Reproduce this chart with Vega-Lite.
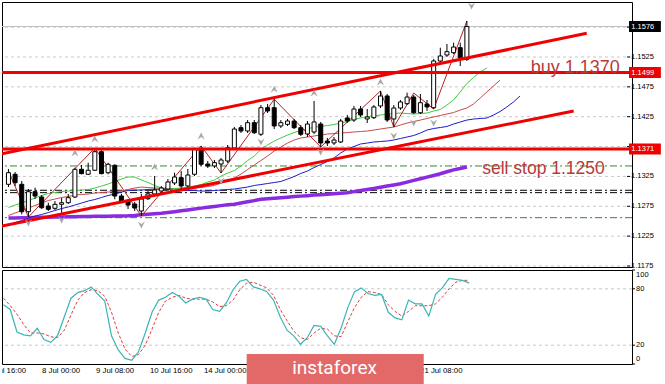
{
"$schema":"https://vega.github.io/schema/vega-lite/v6.json",
"background":"white",
"padding":{"left":0,"top":1,"right":0,"bottom":0},
"bounds":"flush",
"spacing":3,
"config":{"view":{"stroke":"#000","strokeWidth":1},"font":"Liberation Sans","axis":{"labelFont":"Liberation Sans","labelColor":"#000"}},
"datasets":{
"candles":[
{"i":-6,"o":1.13118,"h":1.13374,"l":1.13073,"c":1.13312},
{"i":-5,"o":1.13286,"h":1.13324,"l":1.13090,"c":1.13145},
{"i":-4,"o":1.13118,"h":1.13173,"l":1.12616,"c":1.12659},
{"i":-3,"o":1.12659,"h":1.13039,"l":1.12570,"c":1.12994},
{"i":-2,"o":1.12994,"h":1.13061,"l":1.12872,"c":1.12922},
{"i":-1,"o":1.12905,"h":1.12939,"l":1.12704,"c":1.12726},
{"i":0,"o":1.12755,"h":1.12810,"l":1.12671,"c":1.12699},
{"i":1,"o":1.12716,"h":1.12838,"l":1.12688,"c":1.12783},
{"i":2,"o":1.12783,"h":1.12889,"l":1.12642,"c":1.12810},
{"i":3,"o":1.12810,"h":1.12956,"l":1.12788,"c":1.12894},
{"i":4,"o":1.12905,"h":1.13396,"l":1.12889,"c":1.13369},
{"i":5,"o":1.13369,"h":1.13441,"l":1.13286,"c":1.13296},
{"i":6,"o":1.13286,"h":1.13480,"l":1.13274,"c":1.13353},
{"i":7,"o":1.13353,"h":1.13726,"l":1.13341,"c":1.13664},
{"i":8,"o":1.13664,"h":1.13688,"l":1.13286,"c":1.13296},
{"i":9,"o":1.13312,"h":1.13480,"l":1.13286,"c":1.13453},
{"i":10,"o":1.13436,"h":1.13453,"l":1.12867,"c":1.12922},
{"i":11,"o":1.12922,"h":1.12956,"l":1.12810,"c":1.12838},
{"i":12,"o":1.12838,"h":1.12872,"l":1.12704,"c":1.12771},
{"i":13,"o":1.12788,"h":1.12822,"l":1.12671,"c":1.12721},
{"i":14,"o":1.12671,"h":1.12956,"l":1.12587,"c":1.12872},
{"i":15,"o":1.12877,"h":1.13006,"l":1.12855,"c":1.12956},
{"i":16,"o":1.12956,"h":1.13257,"l":1.12922,"c":1.13023},
{"i":17,"o":1.13006,"h":1.13090,"l":1.12972,"c":1.13056},
{"i":18,"o":1.13039,"h":1.13207,"l":1.13006,"c":1.13157},
{"i":19,"o":1.13140,"h":1.13312,"l":1.13106,"c":1.13240},
{"i":20,"o":1.13229,"h":1.13341,"l":1.13039,"c":1.13090},
{"i":21,"o":1.13090,"h":1.13374,"l":1.13056,"c":1.13274},
{"i":22,"o":1.13286,"h":1.13731,"l":1.13257,"c":1.13704},
{"i":23,"o":1.13704,"h":1.13760,"l":1.13425,"c":1.13453},
{"i":24,"o":1.13458,"h":1.13508,"l":1.13391,"c":1.13425},
{"i":25,"o":1.13425,"h":1.13525,"l":1.13391,"c":1.13480},
{"i":26,"o":1.13458,"h":1.13559,"l":1.13307,"c":1.13525},
{"i":27,"o":1.13508,"h":1.13776,"l":1.13475,"c":1.13731},
{"i":28,"o":1.13726,"h":1.14078,"l":1.13693,"c":1.14044},
{"i":29,"o":1.14066,"h":1.14111,"l":1.13977,"c":1.14011},
{"i":30,"o":1.14011,"h":1.14195,"l":1.13977,"c":1.14150},
{"i":31,"o":1.14150,"h":1.14195,"l":1.13961,"c":1.13982},
{"i":32,"o":1.13956,"h":1.14446,"l":1.13927,"c":1.14401},
{"i":33,"o":1.14401,"h":1.14463,"l":1.14312,"c":1.14346},
{"i":34,"o":1.14401,"h":1.14542,"l":1.14044,"c":1.14095},
{"i":35,"o":1.14095,"h":1.14195,"l":1.14061,"c":1.14150},
{"i":36,"o":1.14123,"h":1.14212,"l":1.14095,"c":1.14178},
{"i":37,"o":1.14178,"h":1.14212,"l":1.14044,"c":1.14066},
{"i":38,"o":1.14066,"h":1.14111,"l":1.13927,"c":1.13956},
{"i":39,"o":1.13961,"h":1.14178,"l":1.13910,"c":1.14128},
{"i":40,"o":1.13994,"h":1.14513,"l":1.13961,"c":1.14162},
{"i":41,"o":1.14128,"h":1.14162,"l":1.13743,"c":1.13810},
{"i":42,"o":1.13843,"h":1.13894,"l":1.13760,"c":1.13810},
{"i":43,"o":1.13810,"h":1.13910,"l":1.13776,"c":1.13860},
{"i":44,"o":1.13827,"h":1.14212,"l":1.13810,"c":1.14178},
{"i":45,"o":1.14229,"h":1.14279,"l":1.14145,"c":1.14178},
{"i":46,"o":1.14195,"h":1.14430,"l":1.14162,"c":1.14379},
{"i":47,"o":1.14379,"h":1.14430,"l":1.14245,"c":1.14279},
{"i":48,"o":1.14212,"h":1.14379,"l":1.14145,"c":1.14245},
{"i":49,"o":1.14234,"h":1.14446,"l":1.14212,"c":1.14413},
{"i":50,"o":1.14430,"h":1.14681,"l":1.14396,"c":1.14597},
{"i":51,"o":1.14597,"h":1.14630,"l":1.14162,"c":1.14195},
{"i":52,"o":1.14212,"h":1.14446,"l":1.14078,"c":1.14396},
{"i":53,"o":1.14396,"h":1.14530,"l":1.14363,"c":1.14497},
{"i":54,"o":1.14468,"h":1.14652,"l":1.14446,"c":1.14580},
{"i":55,"o":1.14580,"h":1.14614,"l":1.14296,"c":1.14317},
{"i":56,"o":1.14317,"h":1.14630,"l":1.14296,"c":1.14485},
{"i":57,"o":1.14463,"h":1.14530,"l":1.14346,"c":1.14413},
{"i":58,"o":1.14401,"h":1.15217,"l":1.14379,"c":1.15183},
{"i":59,"o":1.15183,"h":1.15406,"l":1.15150,"c":1.15267},
{"i":60,"o":1.15283,"h":1.15468,"l":1.15250,"c":1.15339},
{"i":61,"o":1.15322,"h":1.15490,"l":1.15300,"c":1.15417},
{"i":62,"o":1.15406,"h":1.15490,"l":1.15099,"c":1.15238},
{"i":63,"o":1.15212,"h":1.15853,"l":1.15183,"c":1.15760}
],
"alligator":[
{"i":-6,"lips":1.12729,"teeth":1.12595,"jaw":1.12436,"ma":1.12553},
{"i":-5,"lips":1.12771,"teeth":1.12637,"jaw":1.12478,"ma":1.12553},
{"i":-4,"lips":1.12804,"teeth":1.12679,"jaw":1.12511,"ma":1.12557},
{"i":-3,"lips":1.12846,"teeth":1.12721,"jaw":1.12553,"ma":1.12558},
{"i":-2,"lips":1.12888,"teeth":1.12763,"jaw":1.12587,"ma":1.12562},
{"i":-1,"lips":1.12930,"teeth":1.12804,"jaw":1.12612,"ma":1.12565},
{"i":0,"lips":1.12964,"teeth":1.12846,"jaw":1.12645,"ma":1.12567},
{"i":1,"lips":1.12980,"teeth":1.12871,"jaw":1.12679,"ma":1.12570},
{"i":2,"lips":1.12997,"teeth":1.12897,"jaw":1.12712,"ma":1.12572},
{"i":3,"lips":1.13005,"teeth":1.12913,"jaw":1.12738,"ma":1.12573},
{"i":4,"lips":1.13014,"teeth":1.12938,"jaw":1.12771,"ma":1.12575},
{"i":5,"lips":1.13022,"teeth":1.12947,"jaw":1.12804,"ma":1.12577},
{"i":6,"lips":1.13031,"teeth":1.12955,"jaw":1.12838,"ma":1.12579},
{"i":7,"lips":1.13056,"teeth":1.12972,"jaw":1.12863,"ma":1.12581},
{"i":8,"lips":1.13089,"teeth":1.12980,"jaw":1.12897,"ma":1.12583},
{"i":9,"lips":1.13123,"teeth":1.12989,"jaw":1.12930,"ma":1.12585},
{"i":10,"lips":1.13165,"teeth":1.12997,"jaw":1.12955,"ma":1.12587},
{"i":11,"lips":1.13206,"teeth":1.13005,"jaw":1.12989,"ma":1.12588},
{"i":12,"lips":1.13240,"teeth":1.13031,"jaw":1.13014,"ma":1.12590},
{"i":13,"lips":1.13240,"teeth":1.13056,"jaw":1.13022,"ma":1.12597},
{"i":14,"lips":1.13190,"teeth":1.13072,"jaw":1.13022,"ma":1.12607},
{"i":15,"lips":1.13148,"teeth":1.13064,"jaw":1.13031,"ma":1.12615},
{"i":16,"lips":1.13098,"teeth":1.13056,"jaw":1.13039,"ma":1.12624},
{"i":17,"lips":1.13056,"teeth":1.13056,"jaw":1.13031,"ma":1.12632},
{"i":18,"lips":1.13039,"teeth":1.13047,"jaw":1.13031,"ma":1.12645},
{"i":19,"lips":1.13047,"teeth":1.13047,"jaw":1.13022,"ma":1.12660},
{"i":20,"lips":1.13056,"teeth":1.13039,"jaw":1.13014,"ma":1.12674},
{"i":21,"lips":1.13072,"teeth":1.13047,"jaw":1.13014,"ma":1.12689},
{"i":22,"lips":1.13089,"teeth":1.13056,"jaw":1.13014,"ma":1.12704},
{"i":23,"lips":1.13114,"teeth":1.13064,"jaw":1.13005,"ma":1.12719},
{"i":24,"lips":1.13156,"teeth":1.13081,"jaw":1.13005,"ma":1.12732},
{"i":25,"lips":1.13190,"teeth":1.13098,"jaw":1.13014,"ma":1.12746},
{"i":26,"lips":1.13257,"teeth":1.13139,"jaw":1.13022,"ma":1.12761},
{"i":27,"lips":1.13307,"teeth":1.13173,"jaw":1.13031,"ma":1.12774},
{"i":28,"lips":1.13349,"teeth":1.13223,"jaw":1.13039,"ma":1.12784},
{"i":29,"lips":1.13424,"teeth":1.13290,"jaw":1.13056,"ma":1.12804},
{"i":30,"lips":1.13516,"teeth":1.13366,"jaw":1.13072,"ma":1.12825},
{"i":31,"lips":1.13592,"teeth":1.13441,"jaw":1.13098,"ma":1.12845},
{"i":32,"lips":1.13700,"teeth":1.13516,"jaw":1.13114,"ma":1.12866},
{"i":33,"lips":1.13776,"teeth":1.13592,"jaw":1.13131,"ma":1.12875},
{"i":34,"lips":1.13843,"teeth":1.13675,"jaw":1.13148,"ma":1.12883},
{"i":35,"lips":1.13893,"teeth":1.13742,"jaw":1.13165,"ma":1.12893},
{"i":36,"lips":1.13943,"teeth":1.13809,"jaw":1.13206,"ma":1.12902},
{"i":37,"lips":1.13985,"teeth":1.13860,"jaw":1.13248,"ma":1.12912},
{"i":38,"lips":1.14019,"teeth":1.13893,"jaw":1.13299,"ma":1.12920},
{"i":39,"lips":1.14044,"teeth":1.13910,"jaw":1.13340,"ma":1.12928},
{"i":40,"lips":1.14077,"teeth":1.13927,"jaw":1.13399,"ma":1.12937},
{"i":41,"lips":1.14086,"teeth":1.13943,"jaw":1.13449,"ma":1.12944},
{"i":42,"lips":1.14102,"teeth":1.13960,"jaw":1.13500,"ma":1.12952},
{"i":43,"lips":1.14119,"teeth":1.13968,"jaw":1.13558,"ma":1.12960},
{"i":44,"lips":1.14144,"teeth":1.13977,"jaw":1.13642,"ma":1.12967},
{"i":45,"lips":1.14169,"teeth":1.13985,"jaw":1.13709,"ma":1.12975},
{"i":46,"lips":1.14203,"teeth":1.13994,"jaw":1.13751,"ma":1.12995},
{"i":47,"lips":1.14228,"teeth":1.14002,"jaw":1.13793,"ma":1.13014},
{"i":48,"lips":1.14253,"teeth":1.14010,"jaw":1.13809,"ma":1.13032},
{"i":49,"lips":1.14262,"teeth":1.14027,"jaw":1.13826,"ma":1.13050},
{"i":50,"lips":1.14278,"teeth":1.14044,"jaw":1.13835,"ma":1.13069},
{"i":51,"lips":1.14295,"teeth":1.14061,"jaw":1.13843,"ma":1.13089},
{"i":52,"lips":1.14303,"teeth":1.14077,"jaw":1.13860,"ma":1.13107},
{"i":53,"lips":1.14312,"teeth":1.14111,"jaw":1.13885,"ma":1.13126},
{"i":54,"lips":1.14303,"teeth":1.14144,"jaw":1.13910,"ma":1.13154},
{"i":55,"lips":1.14295,"teeth":1.14169,"jaw":1.13935,"ma":1.13183},
{"i":56,"lips":1.14303,"teeth":1.14194,"jaw":1.13977,"ma":1.13211},
{"i":57,"lips":1.14312,"teeth":1.14220,"jaw":1.14027,"ma":1.13238},
{"i":58,"lips":1.14345,"teeth":1.14246,"jaw":1.14052,"ma":1.13266},
{"i":59,"lips":1.14370,"teeth":1.14270,"jaw":1.14069,"ma":1.13295},
{"i":60,"lips":1.14446,"teeth":1.14295,"jaw":1.14086,"ma":1.13328},
{"i":61,"lips":1.14530,"teeth":1.14320,"jaw":1.14128,"ma":1.13360},
{"i":62,"lips":1.14664,"teeth":1.14362,"jaw":1.14161,"ma":1.13382},
{"i":63,"lips":1.14806,"teeth":1.14396,"jaw":1.14194,"ma":1.13407},
{"i":64,"lips":1.14906,"teeth":1.14463,"jaw":1.14211},
{"i":65,"lips":1.14998,"teeth":1.14563,"jaw":1.14220},
{"i":66,"lips":1.15066,"teeth":1.14664,"jaw":1.14228},
{"i":67,"teeth":1.14764,"jaw":1.14278},
{"i":68,"teeth":1.14863,"jaw":1.14337},
{"i":69,"jaw":1.14412},
{"i":70,"jaw":1.14496},
{"i":71,"jaw":1.14597}
],
"zigzag":[
{"i":-6,"p":1.13341},{"i":-3,"p":1.12570},{"i":7,"p":1.13726},{"i":14,"p":1.12587},{"i":23,"p":1.13760},{"i":26,"p":1.13307},{"i":34,"p":1.14542},{"i":41,"p":1.13743},{"i":50,"p":1.14681},{"i":52,"p":1.14078},{"i":55,"p":1.14647},{"i":58,"p":1.14379},{"i":63,"p":1.15853}
],
"fractals":[
{"i":4,"p":1.13642,"dir":"up"},{"i":7,"p":1.13877,"dir":"up"},{"i":16,"p":1.13408,"dir":"up"},{"i":23,"p":1.13927,"dir":"up"},{"i":34,"p":1.14709,"dir":"up"},{"i":40,"p":1.14647,"dir":"up"},{"i":50,"p":1.14831,"dir":"up"},
{"i":-3,"p":1.12470,"dir":"down"},{"i":2,"p":1.12520,"dir":"down"},{"i":14,"p":1.12436,"dir":"down"},{"i":26,"p":1.13173,"dir":"down"},{"i":32,"p":1.13827,"dir":"down"},{"i":41,"p":1.13659,"dir":"down"},{"i":52,"p":1.13927,"dir":"down"},{"i":55,"p":1.14145,"dir":"down"},{"i":58,"p":1.14145,"dir":"down"},{"i":63.7,"p":1.16104,"dir":"down"}
],
"channels":[
{"line":"upper","i":-7,"p":1.13629},{"line":"upper","i":81.04,"p":1.15647},
{"line":"lower","i":-7,"p":1.12419},{"line":"lower","i":79.07,"p":1.14346}
],
"stoch":[
{"i":-6,"k":63,"d":70},{"i":-5,"k":58,"d":62},{"i":-4,"k":34,"d":53},{"i":-3,"k":31,"d":42},{"i":-2,"k":30,"d":33},{"i":-1,"k":38,"d":33},
{"i":0,"k":26,"d":32},{"i":1,"k":23,"d":29},{"i":2,"k":30,"d":28},{"i":3,"k":50,"d":36},{"i":4,"k":70,"d":52},{"i":5,"k":76,"d":68},
{"i":6,"k":78,"d":76},{"i":7,"k":82,"d":79},{"i":8,"k":74,"d":78},{"i":9,"k":67,"d":72},{"i":10,"k":30,"d":55},{"i":11,"k":15,"d":33},
{"i":12,"k":6,"d":16},{"i":13,"k":4,"d":8},{"i":14,"k":13,"d":10},{"i":15,"k":33,"d":20},{"i":16,"k":55,"d":37},{"i":17,"k":68,"d":55},
{"i":18,"k":71,"d":67},{"i":19,"k":76,"d":71},{"i":20,"k":72,"d":73},{"i":21,"k":65,"d":70},{"i":22,"k":69,"d":69},{"i":23,"k":71,"d":69},
{"i":24,"k":69,"d":69},{"i":25,"k":58,"d":66},{"i":26,"k":56,"d":61},{"i":27,"k":65,"d":62},{"i":28,"k":79,"d":68},{"i":29,"k":88,"d":79},
{"i":30,"k":90,"d":86},{"i":31,"k":82,"d":87},{"i":32,"k":80,"d":84},{"i":33,"k":77,"d":81},{"i":34,"k":68,"d":73},{"i":35,"k":50,"d":58},
{"i":36,"k":36,"d":46},{"i":37,"k":30,"d":35},{"i":38,"k":21,"d":28},{"i":39,"k":28,"d":26},{"i":40,"k":41,"d":33},{"i":41,"k":40,"d":38},
{"i":42,"k":30,"d":37},{"i":43,"k":21,"d":30},{"i":44,"k":38,"d":29},{"i":45,"k":60,"d":45},{"i":46,"k":77,"d":60},{"i":47,"k":81,"d":71},
{"i":48,"k":75,"d":77},{"i":49,"k":73,"d":76},{"i":50,"k":74,"d":74},{"i":51,"k":55,"d":63},{"i":52,"k":49,"d":56},{"i":53,"k":47,"d":51},
{"i":54,"k":68,"d":56},{"i":55,"k":64,"d":62},{"i":56,"k":64,"d":62},{"i":57,"k":51,"d":62},{"i":58,"k":74,"d":64},{"i":59,"k":81,"d":71},
{"i":60,"k":91,"d":80},{"i":61,"k":90,"d":87},{"i":62,"k":89,"d":89},{"i":63,"k":86,"d":89}
],
"timelabels":[
{"i":-8,"t":"6 Jul 16:00"},{"i":0,"t":"8 Jul 00:00"},{"i":8,"t":"9 Jul 08:00"},{"i":16,"t":"10 Jul 16:00"},{"i":24,"t":"14 Jul 00:00"},{"i":56,"t":"21 Jul 08:00"}
],
"tags":[
{"p":1.1576,"t":"1.1576","kind":"bid"},{"p":1.1499,"t":"1.1499","kind":"line"},{"p":1.1371,"t":"1.1371","kind":"line"}
],
"pricegrid":[
{"p":1.1175},{"p":1.1225},{"p":1.1275},{"p":1.1325},{"p":1.1375},{"p":1.1425},{"p":1.1475},{"p":1.1525},{"p":1.1575}
],
"pricelabels":[
{"p":1.1175,"t":"1.1175"},{"p":1.1225,"t":"1.1225"},{"p":1.1275,"t":"1.1275"},{"p":1.1325,"t":"1.1325"},{"p":1.1425,"t":"1.1425"},{"p":1.1475,"t":"1.1475"},{"p":1.1525,"t":"1.1525"}
],
"stochticks":[{"v":0},{"v":20},{"v":80},{"v":100}],
"stochmid":[{"v":20,"t":"20"},{"v":80,"t":"80"}],
"stochtop":[{"v":100,"t":"100"}],
"stochbot":[{"v":0,"t":"0"}]
},
"vconcat":[
{
"width":630,"height":265,
"layer":[
{"data":{"name":"pricegrid"},"mark":{"type":"rule","color":"#c8c8c8","strokeWidth":1,"strokeDash":[3,3]},
 "encoding":{"y":{"field":"p","type":"quantitative","scale":{"domain":[1.11733,1.16171],"nice":false,"zero":false},"axis":null}}},
{"data":{"values":[{"p":1.13425},{"p":1.12559}]},"mark":{"type":"rule","color":"#2e8b2e","strokeWidth":1,"strokeDash":[7,3,2,3]},
 "encoding":{"y":{"field":"p","type":"quantitative","axis":null}}},
{"data":{"values":[{"p":1.13018},{"p":1.12978}]},"mark":{"type":"rule","color":"#000000","strokeWidth":1,"strokeDash":[7,3,2,3]},
 "encoding":{"y":{"field":"p","type":"quantitative","axis":null}}},
{"data":{"values":[{"p":1.1576}]},"mark":{"type":"rule","color":"#c0c0c0","strokeWidth":1},
 "encoding":{"y":{"field":"p","type":"quantitative","axis":null}}},
{"data":{"name":"alligator"},"mark":{"type":"line","color":"#8a2be2","strokeWidth":3.5,"clip":true},
 "encoding":{"x":{"field":"i","type":"quantitative","axis":null},"y":{"field":"ma","type":"quantitative","axis":null}}},
{"data":{"name":"alligator"},"mark":{"type":"line","color":"#1c1cc8","strokeWidth":1,"clip":true},
 "encoding":{"x":{"field":"i","type":"quantitative","axis":null},"y":{"field":"jaw","type":"quantitative","axis":null}}},
{"data":{"name":"alligator"},"mark":{"type":"line","color":"#c84a4a","strokeWidth":1,"clip":true},
 "encoding":{"x":{"field":"i","type":"quantitative","axis":null},"y":{"field":"teeth","type":"quantitative","axis":null}}},
{"data":{"name":"alligator"},"mark":{"type":"line","color":"#3ccc3c","strokeWidth":1,"clip":true},
 "encoding":{"x":{"field":"i","type":"quantitative","axis":null},"y":{"field":"lips","type":"quantitative","axis":null}}},
{"data":{"name":"zigzag"},"mark":{"type":"line","color":"#b22222","strokeWidth":1,"clip":true},
 "encoding":{"x":{"field":"i","type":"quantitative","axis":null},"y":{"field":"p","type":"quantitative","axis":null}}},
{"data":{"name":"candles"},"mark":{"type":"rule","color":"#000","strokeWidth":1,"clip":true},
 "encoding":{
  "x":{"field":"i","type":"quantitative","scale":{"domain":[-6.22,87.1],"nice":false,"zero":false},
   "axis":{"values":[-4,0,4,8,12,16,20,24,28,32,36,40,44,48,52,56,60,64,68,72,76,80,84],"grid":true,"gridColor":"#c8c8c8","gridDash":[3,3],"labels":false,"ticks":false,"domain":false,"title":null}},
  "y":{"field":"l","type":"quantitative","axis":null},
  "y2":{"field":"h"}}},
{"data":{"name":"candles"},"mark":{"type":"bar","width":4,"stroke":"#000","strokeWidth":1,"clip":true},
 "encoding":{"x":{"field":"i","type":"quantitative","axis":null},"y":{"field":"o","type":"quantitative","axis":null},"y2":{"field":"c"},
  "fill":{"condition":{"test":"datum.c >= datum.o","value":"#ffffff"},"value":"#000000"}}},
{"data":{"values":[{"p":1.1499},{"p":1.1371}]},"mark":{"type":"rule","color":"#f00000","strokeWidth":3},
 "encoding":{"y":{"field":"p","type":"quantitative","axis":null}}},
{"data":{"name":"channels"},"mark":{"type":"line","color":"#f00000","strokeWidth":3,"clip":true},
 "encoding":{"x":{"field":"i","type":"quantitative","axis":null},"y":{"field":"p","type":"quantitative","axis":null},"detail":{"field":"line"}}},
{"data":{"name":"fractals"},"transform":[{"filter":"datum.dir == 'up'"}],"mark":{"type":"point","shape":"M0,-1L1,1L0,0.3L-1,1Z","size":50,"filled":true,"color":"#a8a8a8","opacity":1},
 "encoding":{"x":{"field":"i","type":"quantitative","axis":null},"y":{"field":"p","type":"quantitative","axis":null}}},
{"data":{"name":"fractals"},"transform":[{"filter":"datum.dir == 'down'"}],"mark":{"type":"point","shape":"M0,1L1,-1L0,-0.3L-1,-1Z","size":50,"filled":true,"color":"#a8a8a8","opacity":1},
 "encoding":{"x":{"field":"i","type":"quantitative","axis":null},"y":{"field":"p","type":"quantitative","axis":null}}},
{"data":{"values":[{}]},"mark":{"type":"text","text":"buy 1.1370","align":"left","baseline":"middle","fontSize":18,"color":"#b83a3a","font":"Liberation Sans"},
 "encoding":{"x":{"datum":72.6,"axis":null},"y":{"datum":1.15058,"axis":null}}},
{"data":{"values":[{}]},"mark":{"type":"text","text":"sell stop 1.1250","align":"left","baseline":"middle","fontSize":17.5,"color":"#b83a3a","font":"Liberation Sans"},
 "encoding":{"x":{"datum":65.3,"axis":null},"y":{"datum":1.13374,"axis":null}}},
{"data":{"name":"pricegrid"},"mark":{"type":"rule","color":"#000","strokeWidth":1},
 "encoding":{"x":{"datum":87.1,"axis":null},"x2":{"datum":87.55},"y":{"field":"p","type":"quantitative","axis":null}}},
{"data":{"name":"pricelabels"},"mark":{"type":"text","align":"left","baseline":"middle","fontSize":7.5,"color":"#000"},
 "encoding":{"x":{"datum":87.7,"axis":null},"y":{"field":"p","type":"quantitative","axis":null},"text":{"field":"t"}}},
{"data":{"name":"tags"},"mark":{"type":"rule","strokeWidth":11},
 "encoding":{"x":{"datum":87.4,"axis":null},"x2":{"datum":92.2},"y":{"field":"p","type":"quantitative","axis":null},
  "color":{"condition":{"test":"datum.kind == 'bid'","value":"#000000"},"value":"#f00000"}}},
{"data":{"name":"tags"},"mark":{"type":"text","align":"left","baseline":"middle","fontSize":7.5,"color":"#ffffff"},
 "encoding":{"x":{"datum":87.75,"axis":null},"y":{"field":"p","type":"quantitative","axis":null},"text":{"field":"t"}}}
]
},
{
"width":630,"height":94,
"layer":[
{"data":{"values":[{"v":20},{"v":80}]},"mark":{"type":"rule","color":"#c8c8c8","strokeDash":[3,3]},
 "encoding":{"y":{"field":"v","type":"quantitative","scale":{"domain":[0,100],"nice":false,"zero":false},"axis":null}}},
{"data":{"name":"stoch"},"mark":{"type":"line","color":"#e03c3c","strokeWidth":1,"strokeDash":[3,2],"clip":true},
 "encoding":{"x":{"field":"i","type":"quantitative","axis":null},"y":{"field":"d","type":"quantitative","axis":null}}},
{"data":{"name":"stoch"},"mark":{"type":"line","color":"#3cb4b4","strokeWidth":1.2,"clip":true},
 "encoding":{
  "x":{"field":"i","type":"quantitative","scale":{"domain":[-6.22,87.1],"nice":false,"zero":false},
   "axis":{"values":[-4,0,4,8,12,16,20,24,28,32,36,40,44,48,52,56,60,64,68,72,76,80,84],"grid":true,"gridColor":"#c8c8c8","gridDash":[3,3],"labels":false,"ticks":false,"domain":false,"title":null}},
  "y":{"field":"k","type":"quantitative","axis":null}}},
{"data":{"name":"stochticks"},"mark":{"type":"rule","color":"#000","strokeWidth":1},
 "encoding":{"x":{"datum":87.1,"axis":null},"x2":{"datum":87.55},"y":{"field":"v","type":"quantitative","axis":null}}},
{"data":{"name":"stochmid"},"mark":{"type":"text","align":"left","baseline":"middle","fontSize":7.5,"color":"#000"},
 "encoding":{"x":{"datum":87.7,"axis":null},"y":{"field":"v","type":"quantitative","axis":null},"text":{"field":"t"}}},
{"data":{"name":"stochtop"},"mark":{"type":"text","align":"left","baseline":"top","fontSize":7.5,"color":"#000","dy":1},
 "encoding":{"x":{"datum":87.7,"axis":null},"y":{"field":"v","type":"quantitative","axis":null},"text":{"field":"t"}}},
{"data":{"name":"stochbot"},"mark":{"type":"text","align":"left","baseline":"bottom","fontSize":7.5,"color":"#000","dy":-1},
 "encoding":{"x":{"datum":87.7,"axis":null},"y":{"field":"v","type":"quantitative","axis":null},"text":{"field":"t"}}}
]
},
{
"width":630,"height":18,
"view":{"stroke":null},
"layer":[
{"data":{"name":"timelabels"},"mark":{"type":"text","align":"left","baseline":"middle","fontSize":7.8,"dx":-2,"color":"#000","clip":true},
 "encoding":{"x":{"field":"i","type":"quantitative","scale":{"domain":[-6.22,87.1],"nice":false,"zero":false},"axis":null},
  "y":{"datum":0.78,"type":"quantitative","scale":{"domain":[0,1],"nice":false,"zero":false},"axis":null},"text":{"field":"t"}}},
{"data":{"values":[{}]},"mark":{"type":"rect","color":"#e36969"},
 "encoding":{"x":{"datum":30.03,"axis":null},"x2":{"datum":56.25},"y":{"datum":0,"axis":null},"y2":{"datum":1.72}}},
{"data":{"values":[{}]},"mark":{"type":"text","text":"instaforex","align":"center","baseline":"middle","fontSize":19,"color":"#ffffff","font":"Roboto"},
 "encoding":{"x":{"datum":43.04,"axis":null},"y":{"datum":0.97,"axis":null}}}
]
}
]
}
